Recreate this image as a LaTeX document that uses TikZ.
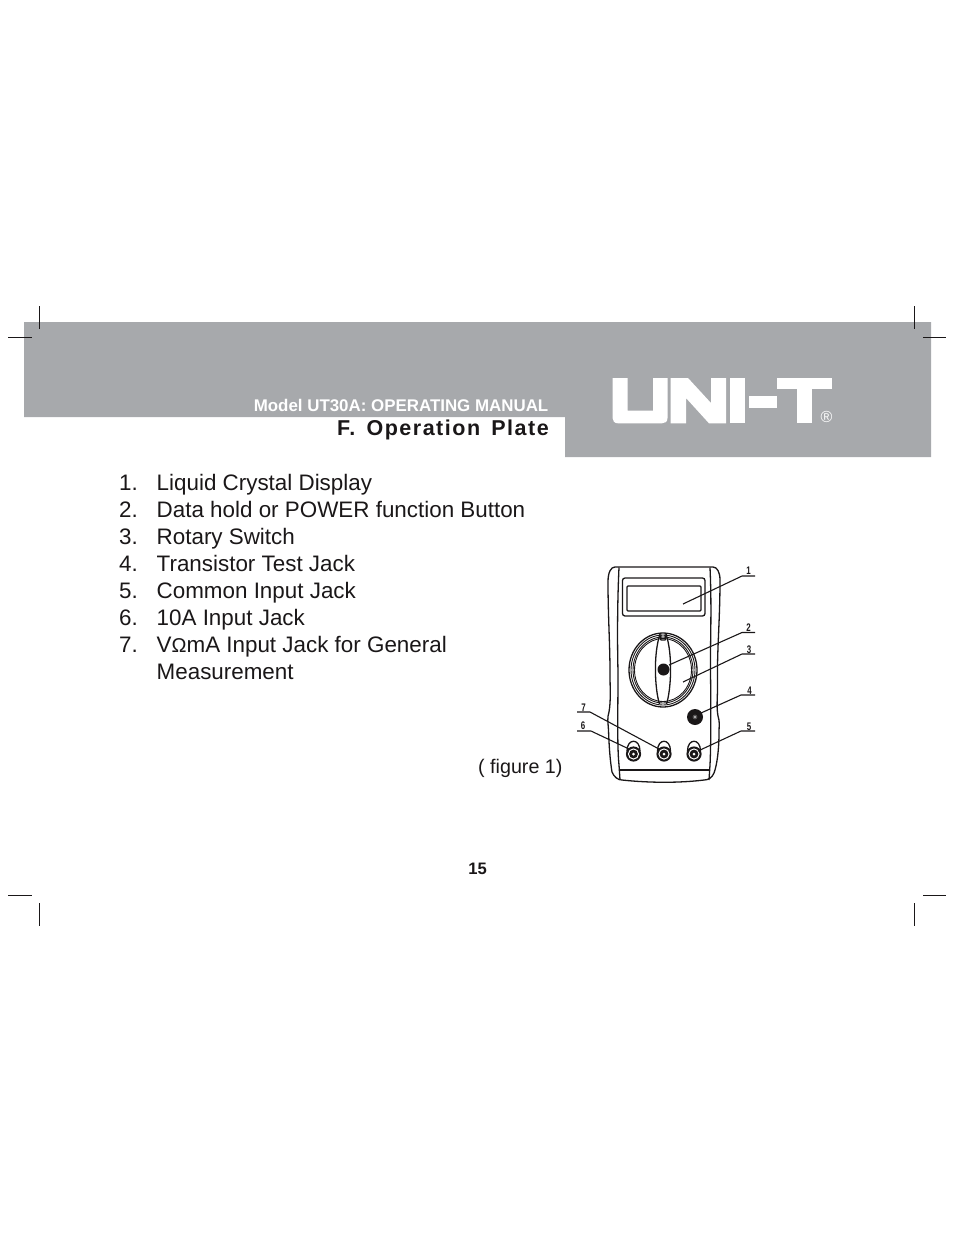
\documentclass[tikz,border=0pt]{standalone}
\usepackage{fontspec}
\usepackage{graphicx}
\setmainfont{Liberation Sans}
\newfontfamily\spacedbold[LetterSpace=7,WordSpace=1.5]{Liberation Sans Bold}
\definecolor{band}{HTML}{A7A9AC}
\definecolor{ink}{HTML}{1A1718}
\tikzset{
  crop/.style={draw=ink,line width=1pt},
  meter/.style={draw=ink,line width=1.3pt},
  thinm/.style={draw=ink,line width=0.9pt},
  leader/.style={draw=ink,line width=1.1pt},
  num/.style={inner sep=0pt,text=ink,font=\fontsize{11}{11}\selectfont\bfseries},
  item/.style={anchor=base west,inner sep=0pt,text=ink,font=\fontsize{22.4}{27}\selectfont},
  logo/.style={fill=white,draw=none}
}
\newcommand{\jackdraw}[2]{%
  \draw[meter] (#1-6.5,#2-3) .. controls (#1-6.5,#2-16) and (#1+6.5,#2-16) .. (#1+6.5,#2-3);
  \fill[ink] (#1,#2) circle (7.6);
  \fill[white] (#1,#2) circle (5.6);
  \fill[ink] (#1,#2) circle (4.4);
  \fill[white] (#1,#2) circle (1.5);
}
\newcommand{\narrownum}[1]{\scalebox{0.72}[1]{#1}}
\begin{document}
\begin{tikzpicture}[x=1pt,y=-1pt]
\useasboundingbox (0,0) rectangle (954,1235);
% band
\fill[band] (24,322) -- (931,322) -- (931,457) -- (565,457) -- (565,417) -- (24,417) -- cycle;
% crop marks
\draw[crop] (39,306) -- (39,329);
\draw[crop] (8,337.5) -- (32,337.5);
\draw[crop] (914.7,306) -- (914.7,329);
\draw[crop] (923,337.5) -- (946,337.5);
\draw[crop] (8,895) -- (32,895);
\draw[crop] (39,903) -- (39,926);
\draw[crop] (923,895) -- (946,895);
\draw[crop] (914.7,903) -- (914.7,926);
% logo
\fill[logo] (612.5,378) -- (627.7,378) -- (627.7,410.7) -- (653,410.7) -- (653,378) -- (667.5,378)
  -- (667.5,418) .. controls (667.5,422) and (665,423.3) .. (662,423.3) -- (618,423.3)
  .. controls (614.5,423.3) and (612.5,421) .. (612.5,418) -- cycle;
\fill[logo] (670.5,378) -- (688,378) -- (711,403) -- (711,378) -- (726,378) -- (726,423.3) -- (709,423.3) -- (686,398) -- (686,423.3) -- (670.5,423.3) -- cycle;
\fill[logo] (730,378) rectangle (745,423.3);
\fill[logo] (749,396) rectangle (777,408);
\fill[logo] (777,378) rectangle (832,389);
\fill[logo] (797,389) rectangle (812,423.3);
\node[inner sep=0pt,text=white,font=\fontsize{16}{16}\selectfont] (reg) at (826.5,416.5) {®};
% headings
\node[anchor=base east,inner sep=0pt,text=white,font=\fontsize{16.9}{18}\selectfont\bfseries] (model) at (548.5,411) {Model UT30A: OPERATING MANUAL};
\node[anchor=base east,inner sep=0pt,text=ink,font=\fontsize{21.5}{24}\spacedbold\selectfont] (title) at (549,435) {F. Operation Plate};
% list
\node[item] (n1) at (119,490.5) {1.};
\node[item] (t1) at (156.5,490.5) {Liquid Crystal Display};
\node[item] (n2) at (119,517.5) {2.};
\node[item] (t2) at (156.5,517.5) {Data hold or POWER function Button};
\node[item] (n3) at (119,544.5) {3.};
\node[item] (t3) at (156.5,544.5) {Rotary Switch};
\node[item] (n4) at (119,571.5) {4.};
\node[item] (t4) at (156.5,571.5) {Transistor Test Jack};
\node[item] (n5) at (119,598.5) {5.};
\node[item] (t5) at (156.5,598.5) {Common Input Jack};
\node[item] (n6) at (119,625.5) {6.};
\node[item] (t6) at (156.5,625.5) {10A Input Jack};
\node[item] (n7) at (119,652.5) {7.};
\node[item] (t7) at (156.5,652.5) {V{\fontsize{20}{27}\selectfont Ω}mA Input Jack for General};
\node[item] (t7b) at (156.5,679.5) {Measurement};
\node[anchor=base west,inner sep=0pt,text=ink,font=\fontsize{19.7}{22}\selectfont] (fig) at (478,773) {( figure 1)};
\node[inner sep=0pt,text=ink,font=\fontsize{16.6}{18}\selectfont\bfseries] (page) at (477.5,868.5) {15};
% meter body
\draw[meter] (615,567) -- (713,567) .. controls (717,567) and (720,572) .. (720,580)
  .. controls (720,620) and (717,650) .. (717.5,680) .. controls (718,695) and (716,705) .. (718,716)
  .. controls (720,722) and (719,726) .. (719,732) .. controls (719,750) and (717,765) .. (714,773)
  .. controls (712,778) and (708,780) .. (704,780) .. controls (680,783) and (650,783) .. (622,780)
  .. controls (618,780) and (614,777) .. (612,772) .. controls (610,760) and (609,745) .. (608.5,730)
  .. controls (608,722) and (607,718) .. (609,712) .. controls (611,700) and (610,690) .. (610,672)
  .. controls (610,645) and (608,615) .. (608,582) .. controls (608,572) and (611,567) .. (615,567) -- cycle;
\draw[meter] (619,567.5) .. controls (617,610) and (617.5,650) .. (618,672) .. controls (618,710) and (617,745) .. (619,765) -- (620,780);
\draw[meter] (710,567.5) .. controls (712,610) and (710,650) .. (710.5,672) .. controls (711,710) and (711,745) .. (710,765) -- (709,780);
\draw[meter] (618.5,770) -- (710,770);
% display
\draw[meter,rounded corners=2.5pt] (622.5,578) rectangle (705,616);
\draw[meter,rounded corners=1pt] (627,586) rectangle (701,611);
% dial
\draw[meter] (663,670) ellipse (34 and 37);
\draw[thinm] (663,670) ellipse (32 and 35);
\draw[thinm] (663,670) ellipse (30 and 33);
\draw[thinm] (663,670) ellipse (28.5 and 31.5);
\draw[meter] (660,634) .. controls (653,655) and (655,690) .. (659.5,704);
\draw[meter] (666,634) .. controls (673,655) and (671,690) .. (666.5,704);
\draw[meter] (660.5,640) -- (661,634.5) (665.5,640) -- (665,634.5) (660.5,640) -- (665.5,640);
\fill[ink] (663.5,669.5) circle (6);
% jacks
\fill[ink] (695,717) circle (8);
\fill[white!25!ink] (695,717) circle (2.4);
\fill[white] (695,717) circle (0.9);
\jackdraw{633.5}{754}
\jackdraw{664}{754}
\jackdraw{694}{754}
% labels and leaders
\node[num] (l1) at (748.5,570.5) {\narrownum{1}};
\node[num] (l2) at (748.5,627.5) {\narrownum{2}};
\node[num] (l3) at (749,649.5) {\narrownum{3}};
\node[num] (l4) at (749.5,691) {\narrownum{4}};
\node[num] (l5) at (749,727) {\narrownum{5}};
\node[num] (l6) at (583,726) {\narrownum{6}};
\node[num] (l7) at (583.5,707.5) {\narrownum{7}};
\coordinate (a1) at (755,576); \coordinate (b1) at (742,576); \coordinate (c1) at (683,604);
\coordinate (a2) at (755,632.5); \coordinate (b2) at (742,632.5); \coordinate (c2) at (669,665);
\coordinate (a3) at (755,654); \coordinate (b3) at (742,654); \coordinate (c3) at (683,682);
\coordinate (a4) at (755,695); \coordinate (b4) at (741,695); \coordinate (c4) at (701,713);
\coordinate (a5) at (755,731); \coordinate (b5) at (741,731); \coordinate (c5) at (698,751);
\coordinate (a6) at (577,731); \coordinate (b6) at (591,731); \coordinate (c6) at (629,749);
\coordinate (a7) at (577,712); \coordinate (b7) at (590,712); \coordinate (c7) at (659,749);
\foreach \i in {1,...,7} {\draw[leader] (a\i) -- (b\i) -- (c\i);}
\end{tikzpicture}
\end{document}
